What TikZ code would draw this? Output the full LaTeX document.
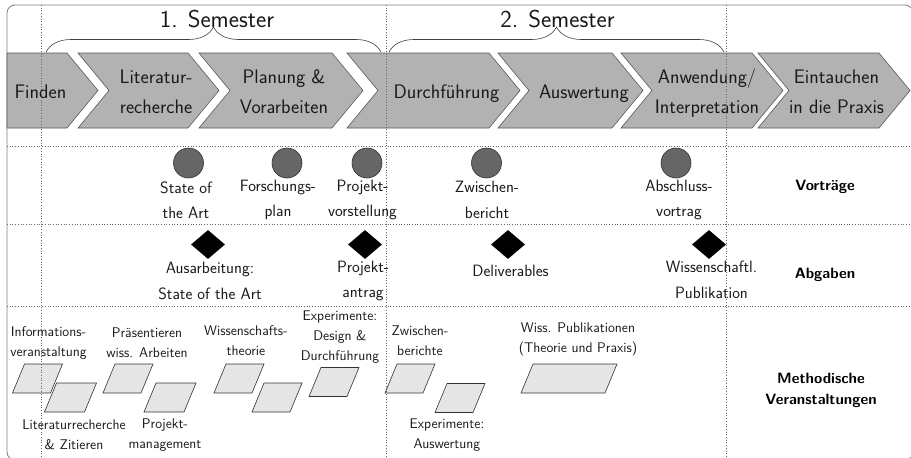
\documentclass[tikz,border=0pt]{standalone}
\usepackage{fontspec}
\usetikzlibrary{shapes.geometric,decorations.pathreplacing}
\newcommand{\mychev}[2]{\draw[chev] (#1,53) -- (#2,53) -- ({#2+31},90.5) -- (#2,128) -- (#1,128) -- ({#1+31},90.5) -- cycle;}
\newcommand{\mypara}[3]{\draw[para] ({#1-#3/2-6},{#2+14.5}) -- ({#1+#3/2-6},{#2+14.5}) -- ({#1+#3/2+6},{#2-14.5}) -- ({#1-#3/2+6},{#2-14.5}) -- cycle;}
\begin{document}
\begin{tikzpicture}[x=1pt,y=-1pt,
  every node/.style={font=\sffamily},
  chev/.style={fill=black!30, draw=black!65, line width=0.6pt},
  ctext/.style={font=\sffamily\fontsize{19.6}{30}\selectfont, align=center, text=black!90, inner sep=0pt},
  sem/.style={font=\sffamily\fontsize{24.4}{28}\selectfont, inner sep=0pt, text=black!90},
  brc/.style={decorate, decoration={brace, amplitude=25pt}, draw=black!75, line width=0.6pt},
  gridl/.style={dotted, draw=black!60, line width=0.7pt},
  vtr/.style={circle, fill=black!60, draw=black!80, line width=0.6pt, minimum size=30pt, inner sep=0pt},
  abg/.style={diamond, fill=black, minimum width=34pt, minimum height=29pt, inner sep=0pt},
  lbl/.style={font=\sffamily\fontsize{16.4}{25.5}\selectfont, align=center, inner sep=0pt, text=black!90},
  sml/.style={font=\sffamily\fontsize{14}{20}\selectfont, align=center, inner sep=0pt, text=black!90},
  rowl/.style={font=\sffamily\bfseries\fontsize{15}{21}\selectfont, align=center, inner sep=0pt},
  para/.style={fill=black!10, draw=black!80, line width=0.6pt},
  frame/.style={draw=black!50, line width=0.8pt, rounded corners=8pt}
]
\useasboundingbox (0,0) rectangle (911,458);
\clip (0,0) rectangle (911,458);
\fill[white] (0,0) rectangle (911,458);
\draw[frame] (7,5) rectangle (913,460);

% chevrons
\draw[chev] (7,53) -- (67,53) -- (98,90.5) -- (67,128) -- (7,128) -- cycle;
\mychev{78}{188}
\mychev{199}{332}
\mychev{347}{489}
\mychev{498}{612}
\mychev{621}{752}
\mychev{758}{879}

\node[ctext] (c1) at (40.5,92) {Finden};
\node[ctext] (c2) at (156,92) {Literatur-\\recherche};
\node[ctext] (c3) at (284,92) {Planung \&\\Vorarbeiten};
\node[ctext] (c4) at (446.5,93.5) {Durchführung};
\node[ctext] (c5) at (584,93.5) {Auswertung};
\node[ctext] (c6) at (707,93) {Anwendung/\\Interpretation};
\node[ctext] (c7) at (836.5,92) {Eintauchen\\in die Praxis};

% braces
\coordinate (b1a) at (46,52);
\coordinate (b1b) at (381,52);
\coordinate (b2a) at (389,52);
\coordinate (b2b) at (724,52);
\draw[brc] (b1a) -- (b1b);
\draw[brc] (b2a) -- (b2b);
\node[sem] (s1) at (217,19) {1. Semester};
\node[sem] (s2) at (557.5,19) {2. Semester};

% grid lines
\coordinate (v1t) at (41,5);  \coordinate (v1b) at (41,458);
\coordinate (v2t) at (386,5); \coordinate (v2b) at (386,458);
\coordinate (v3t) at (726,5); \coordinate (v3b) at (726,458);
\coordinate (h1l) at (7,146); \coordinate (h1r) at (911,146);
\coordinate (h2l) at (7,224); \coordinate (h2r) at (911,224);
\coordinate (h3l) at (7,306); \coordinate (h3r) at (911,306);
\draw[gridl] (h1l) -- (h1r);
\draw[gridl] (h2l) -- (h2r);
\draw[gridl] (h3l) -- (h3r);

% Vortraege
\node[vtr] (o1) at (188.5,163) {};
\node[vtr] (o2) at (287,163) {};
\node[vtr] (o3) at (367,163) {};
\node[vtr] (o4) at (486.5,163) {};
\node[vtr] (o5) at (676,163) {};
\node[lbl] (lo1) at (186,200) {State of\\the Art};
\node[lbl] (lo2) at (278,200) {Forschungs-\\plan};
\node[lbl] (lo3) at (362.5,200) {Projekt-\\vorstellung};
\node[lbl] (lo4) at (487,200) {Zwischen-\\bericht};
\node[lbl] (lo5) at (679,200) {Abschluss-\\vortrag};
\node[rowl] (r1) at (825,187) {Vorträge};

% Abgaben
\node[abg] (d1) at (208,244.5) {};
\node[abg] (d2) at (365,244.5) {};
\node[abg] (d3) at (508,244.5) {};
\node[abg] (d4) at (709,244.5) {};
\node[lbl] (ld1) at (210,281) {Ausarbeitung:\\State of the Art};
\node[lbl] (ld2) at (363,281) {Projekt-\\antrag};
\node[lbl] (ld3) at (510.5,271) {Deliverables};
\node[lbl] (ld4) at (711.5,280) {Wissenschaftl.\\Publikation};
\node[rowl] (r2) at (825,275) {Abgaben};

% Methodische Veranstaltungen
\mypara{37.5}{378.5}{38}
\mypara{70.5}{397.5}{40}
\mypara{128}{378.5}{38}
\mypara{170}{397.5}{40}
\mypara{239}{378.5}{38}
\mypara{277}{397.5}{38}
\mypara{334}{382}{38}
\mypara{410}{378.5}{38}
\mypara{460}{398}{38}
\mypara{569}{378.5}{84}
\node[sml] (m1) at (48.5,343) {Informations-\\veranstaltung};
\node[sml] (m2) at (74,435) {Literaturrecherche\\\& Zitieren};
\node[sml] (m3) at (147,343) {Präsentieren\\wiss. Arbeiten};
\node[sml] (m4) at (165,435) {Projekt-\\management};
\node[sml] (m5) at (246,341) {Wissenschafts-\\theorie};
\node[sml] (m6) at (340,337) {Experimente:\\Design \&\\Durchführung};
\node[sml] (m7) at (420,341) {Zwischen-\\berichte};
\node[sml] (m8) at (447,435) {Experimente:\\Auswertung};
\node[sml] (m9) at (578,339) {Wiss. Publikationen\\(Theorie und Praxis)};
\node[rowl] (r3) at (821,390) {Methodische\\Veranstaltungen};

% vertical grid lines on top
\draw[gridl] (v1t) -- (v1b);
\draw[gridl] (v2t) -- (v2b);
\draw[gridl] (v3t) -- (v3b);
\end{tikzpicture}
\end{document}
